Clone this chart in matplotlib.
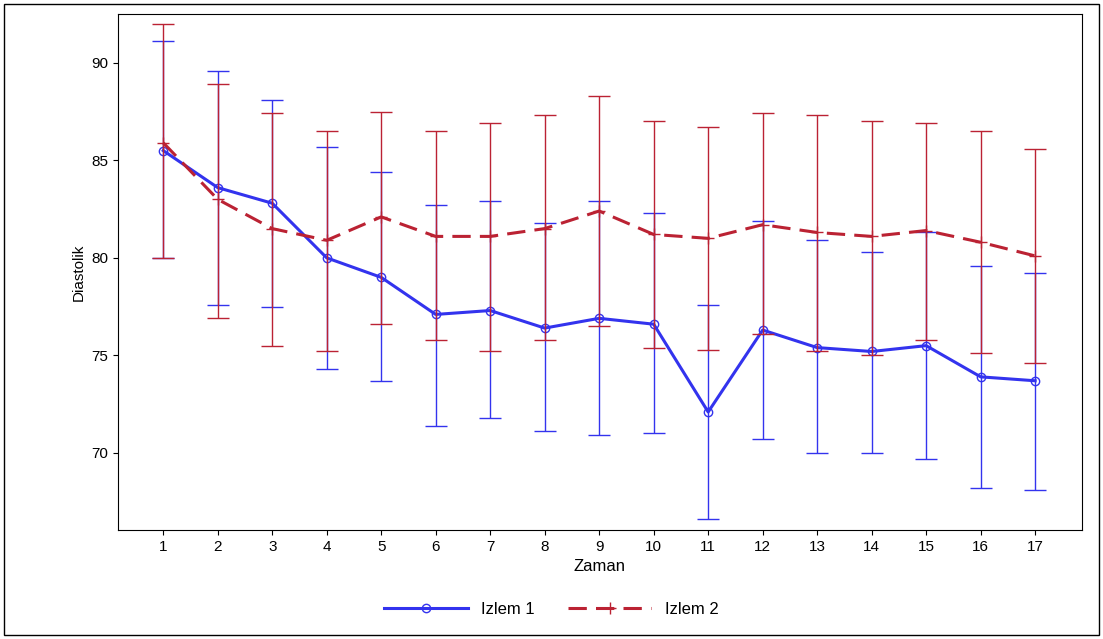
import matplotlib
matplotlib.use("Agg")
import matplotlib.pyplot as plt
from matplotlib.lines import Line2D
from matplotlib.patches import Rectangle

plt.rcParams['font.family'] = ['Liberation Sans', 'DejaVu Sans']

zaman = list(range(1, 18))
izlem1_mean = [85.5, 83.6, 82.8, 80.0, 79.0, 77.1, 77.3, 76.4, 76.9, 76.6, 72.1, 76.3, 75.4, 75.2, 75.5, 73.9, 73.7]
izlem1_up = [91.1, 89.6, 88.1, 85.7, 84.4, 82.7, 82.9, 81.8, 82.9, 82.3, 77.6, 81.9, 80.9, 80.3, 81.3, 79.6, 79.2]
izlem1_lo = [80.0, 77.6, 77.5, 74.3, 73.7, 71.4, 71.8, 71.1, 70.9, 71.0, 66.6, 70.7, 70.0, 70.0, 69.7, 68.2, 68.1]
izlem2_mean = [85.9, 83.0, 81.5, 80.9, 82.1, 81.1, 81.1, 81.5, 82.4, 81.2, 81.0, 81.7, 81.3, 81.1, 81.4, 80.8, 80.1]
izlem2_up = [92.0, 88.9, 87.4, 86.5, 87.5, 86.5, 86.9, 87.3, 88.3, 87.0, 86.7, 87.4, 87.3, 87.0, 86.9, 86.5, 85.6]
izlem2_lo = [80.0, 76.9, 75.5, 75.2, 76.6, 75.8, 75.2, 75.8, 76.5, 75.4, 75.3, 76.1, 75.2, 75.0, 75.8, 75.1, 74.6]

blue = "#3333EE"
red = "#BB2233"

fig = plt.figure(figsize=(11.03, 6.39), dpi=100)
ax = fig.add_axes([118/1103, 1-530/639, (1082-118)/1103, (530-14)/639])

def draw(mean, up, lo, color, ls, marker, ms):
    yerr = [[m - l for m, l in zip(mean, lo)], [u - m for m, u in zip(mean, up)]]
    ax.errorbar(zaman, mean, yerr=yerr, fmt="none", ecolor=color, elinewidth=1, capsize=8, capthick=1)
    ax.plot(zaman, mean, color=color, ls=ls, lw=2.2, marker=marker, ms=ms,
            mfc="none", mec=color, mew=1)

draw(izlem1_mean, izlem1_up, izlem1_lo, blue, "-", "o", 6)
draw(izlem2_mean, izlem2_up, izlem2_lo, red, (0, (6, 3)), "+", 9)

ax.set_xlim(0.17, 17.86)
ax.set_ylim(66.05, 92.5)
ax.set_xticks(zaman)
ax.set_yticks([70, 75, 80, 85, 90])
ax.tick_params(labelsize=11)
ax.set_xlabel("Zaman", fontsize=12)
ax.set_ylabel("Diastolik", fontsize=11)

handles = [Line2D([], [], color=blue, lw=2.2, marker="o", mfc="none", ms=6),
           Line2D([], [], color=red, lw=2.2, ls=(0, (6, 3)), marker="+", ms=9)]
fig.legend(handles, ["Izlem 1", "Izlem 2"], loc="center", bbox_to_anchor=(0.5, 1-609/639),
           ncol=2, frameon=False, fontsize=12, handlelength=5, columnspacing=2)

fig.patches.append(Rectangle((4/1103, 4/639), 1-8/1103, 1-8/639, transform=fig.transFigure,
                             fill=False, ec="black", lw=1))
fig.savefig("out.png", dpi=100)
